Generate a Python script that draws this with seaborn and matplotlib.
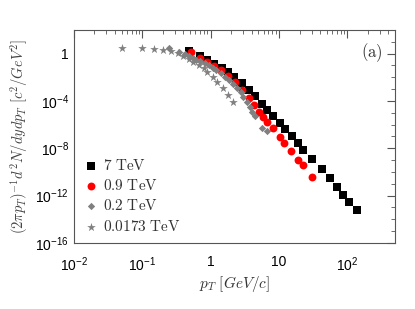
import numpy as np
import pandas as pd
import matplotlib
matplotlib.use("Agg")
import matplotlib.pyplot as plt
import matplotlib.ticker as mticker
import seaborn as sns

# 7 TeV
pt_7 = [0.49, 0.69, 0.90, 1.14, 1.45, 1.77, 2.17, 2.84, 3.59, 4.54, 5.74, 6.79, 8.3, 10.5,
        12.4, 15.7, 19.3, 22.8, 30.8, 43, 55, 71, 87, 107, 140]
y_7 = [1.6, 0.62, 0.28, 0.13, 0.06, 0.027, 0.010, 3.3e-3, 8.3e-4, 2.6e-4, 5.5e-5, 1.7e-5,
       5.3e-6, 1.4e-6, 4.3e-7, 1.1e-7, 2.8e-8, 7.2e-9, 1.26e-9, 1.8e-10, 3.1e-11, 5.4e-12,
       1.1e-12, 3e-13, 6.3e-14]

# 0.9 TeV
pt_09 = [0.51, 0.69, 0.90, 1.11, 1.40, 1.77, 2.24, 2.84, 3.59, 4.38, 5.19, 5.94, 6.79, 8.3,
         10.2, 12.0, 15.2, 19.2, 22.8, 30.8]
y_09 = [1.3, 0.42, 0.19, 0.089, 0.040, 0.0126, 3.9e-3, 8.3e-4, 1.7e-4, 4.5e-5, 1.15e-5,
        4.4e-6, 1.7e-6, 5.2e-7, 9e-8, 2.8e-8, 5.9e-9, 1.0e-9, 3.9e-10, 3.8e-11]

# 0.2 TeV
pt_02 = [0.25, 0.35, 0.42, 0.48, 0.55, 0.62, 0.71, 0.82, 0.94, 1.07, 1.22, 1.40, 1.60, 1.83,
         2.10, 2.40, 2.74, 3.03, 3.36, 3.71, 4.10, 4.39, 5.74, 6.79]
y_02 = [2.9, 1.3, 0.91, 0.62, 0.42, 0.28, 0.23, 0.16, 0.11, 0.060, 0.041, 0.022, 0.010,
        5.8e-3, 2.7e-3, 1.2e-3, 5.6e-4, 2.1e-4, 8.1e-5, 3.1e-5, 1.15e-5, 5.3e-6, 5.1e-7, 2.9e-7]

# 0.0173 TeV
pt_0173 = [0.050, 0.10, 0.147, 0.20, 0.26, 0.33, 0.40, 0.48, 0.56, 0.67, 0.79, 0.90, 1.07,
           1.26, 1.50, 1.77, 2.10]
y_0173 = [2.9, 2.9, 2.4, 2.0, 1.6, 1.1, 0.62, 0.34, 0.19, 0.11, 0.060, 0.027, 0.010,
          3.9e-3, 1.2e-3, 3.2e-4, 8.1e-5]

series = [
    (r"$\mathrm{7\ TeV}$", pt_7, y_7, "s", "black", 30),
    (r"$\mathrm{0.9\ TeV}$", pt_09, y_09, "o", "red", 32),
    (r"$\mathrm{0.2\ TeV}$", pt_02, y_02, "D", "#808080", 14),
    (r"$\mathrm{0.0173\ TeV}$", pt_0173, y_0173, "*", "#808080", 42),
]

sns.set_style("white")
plt.rcParams["mathtext.fontset"] = "custom"
plt.rcParams["mathtext.rm"] = "Liberation Sans"
plt.rcParams["mathtext.it"] = "Liberation Sans:italic"
plt.rcParams["font.family"] = ["Liberation Sans", "DejaVu Sans"]

fig = plt.figure(figsize=(4.15, 3.09), dpi=100)
ax = fig.add_axes([0.178, 0.214, 0.774, 0.689])

for label, x, y, m, c, s in series:
    df = pd.DataFrame({"pt": x, "y": y})
    sns.scatterplot(data=df, x="pt", y="y", marker=m, color=c, s=s, linewidth=0,
                    ax=ax, label=label)

ax.set_xscale("log")
ax.set_yscale("log")
ax.set_xlim(0.01, 500)
ax.set_ylim(1e-16, 1e2)

ax.yaxis.set_major_locator(mticker.FixedLocator([1e-16, 1e-12, 1e-8, 1e-4, 1]))
ax.yaxis.set_minor_locator(mticker.LogLocator(base=10, numticks=30))
ax.yaxis.set_minor_formatter(mticker.NullFormatter())
ax.set_yticklabels([r"$\mathregular{10^{-16}}$", r"$\mathregular{10^{-12}}$",
                    r"$\mathregular{10^{-8}}$", r"$\mathregular{10^{-4}}$", "1"])
ax.xaxis.set_major_locator(mticker.FixedLocator([0.01, 0.1, 1, 10, 100]))
ax.xaxis.set_minor_locator(mticker.LogLocator(base=10, subs=np.arange(2, 10), numticks=30))
ax.xaxis.set_minor_formatter(mticker.NullFormatter())
ax.set_xticklabels([r"$\mathregular{10^{-2}}$", r"$\mathregular{10^{-1}}$", "1", "10",
                    r"$\mathregular{10^{2}}$"])

ax.tick_params(which="both", direction="in", top=True, right=True, colors="#555555",
               labelcolor="black", labelsize=10)
ax.tick_params(which="major", length=6, width=0.8)
ax.tick_params(which="minor", length=3, width=0.6)
ax.tick_params(axis="x", pad=9)
for sp in ax.spines.values():
    sp.set_color("#555555")
    sp.set_linewidth(0.8)

ax.set_xlabel(r"$p_T\ [GeV/c]$", fontsize=11, color="#333333", math_fontfamily="cm",
              labelpad=0)
ax.set_ylabel(r"$(2\pi p_T)^{-1}d^2N/dydp_T\ [c^2/GeV^2]$", fontsize=10.5,
              color="#444444", math_fontfamily="cm")
ax.text(0.96, 0.895, r"$\mathrm{(a)}$", transform=ax.transAxes, fontsize=12,
        ha="right", va="center", color="#333333", math_fontfamily="cm")

leg = ax.legend(loc="lower left", frameon=False, handletextpad=0.3,
                labelspacing=0.35, borderaxespad=0.2, handlelength=1.0,
                prop={"size": 11})
for t in leg.get_texts():
    t.set_math_fontfamily("cm")
    t.set_color("#333333")

fig.savefig("out.png", dpi=100)
